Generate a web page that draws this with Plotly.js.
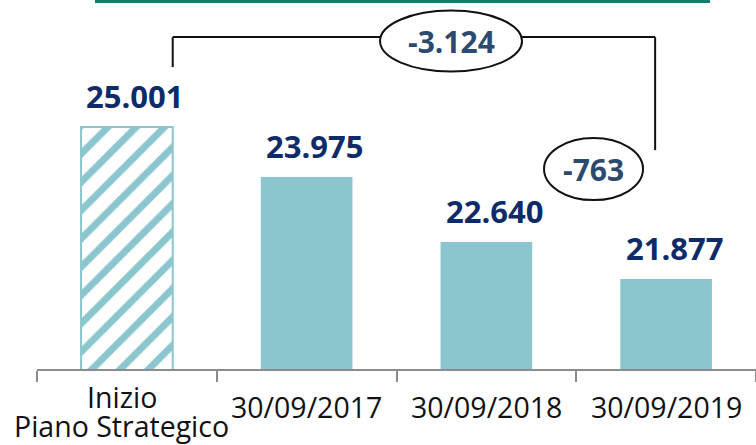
<!DOCTYPE html>
<html><head><meta charset="utf-8">
<script src="https://cdn.plot.ly/plotly-3.0.1.min.js"></script>
<style>html,body{margin:0;padding:0;background:#fff}#chart{width:756px;height:445px}</style>
</head><body><div id="chart"></div>
<script>
const categories = ["Inizio<br>Piano Strategico", "30/09/2017", "30/09/2018", "30/09/2019"];
const values = [25001, 23975, 22640, 21877];
const hatched = [true, false, false, false];

const BAR = '#8BC6CE', NAVY = '#0D2B69', SLATE = '#2C4A6E';
const yMin = 20030, perPx = 20.55, plotH = 369;
const yMax = yMin + plotH * perPx;
const fmt = v => (v < 0 ? '-' : '') + Math.abs(v).toString().replace(/\B(?=(\d{3})+(?!\d))/g, '.');
const catW = 719 / 4; // px per category
const px = p => p / catW;       // px -> category units
const py = p => p * perPx;      // px -> value units

const xs = categories.map((c, i) => i);
const trace = {
  type: 'bar', x: xs, y: values,
  marker: {
    color: BAR,
    line: {color: BAR, width: hatched.map(h => h ? 2 : 0)},
    pattern: {shape: hatched.map(h => h ? '/' : ''), fillmode: 'replace', fgcolor: BAR, bgcolor: 'white', size: 20, solidity: 0.35}
  },
  hoverinfo: 'skip'
};

const annotations = [];
values.forEach((v, i) => annotations.push({
  x: i, y: v, xref: 'x', yref: 'y', text: '<b>' + fmt(v) + '</b>', showarrow: false,
  yanchor: 'bottom', yshift: 8, xshift: 8, font: {family: 'Open Sans', size: 31, color: NAVY}
}));
categories.forEach((c, i) => {
  const parts = c.split('<br>'), n = parts.length;
  parts.forEach((t, k) => {
    const centre = 38 + 4.5 * (n - 1) + 28.5 * (k - (n - 1) / 2);
    annotations.push({
      x: i, y: 0, xref: 'x', yref: 'paper', text: t, showarrow: false,
      yanchor: 'middle', yshift: -centre, xshift: n > 1 ? -5 : 0,
      font: {family: 'Open Sans', size: 28.5, color: '#111'}
    });
  });
});

const first = values[0], last = values[values.length - 1], prev = values[values.length - 2];
const halfBar = 0.255;
const bracketY = first + py(90);
const rightX = 3 - px(11);
const e1 = {x: 1 + px(144.4), y: first + py(86), hw: px(71), hh: py(30.5)};
const e2 = {x: 3 - px(72.6), y: last + py(110), hw: px(49.5), hh: py(31)};
annotations.push({x: e1.x, y: e1.y, xref: 'x', yref: 'y', text: '<b>' + fmt(last - first) + '</b>', showarrow: false, font: {family: 'Open Sans', size: 30, color: SLATE}});
annotations.push({x: e2.x, y: e2.y, xref: 'x', yref: 'y', text: '<b>' + fmt(last - prev) + '</b>', showarrow: false, font: {family: 'Open Sans', size: 30, color: SLATE}});

const ln = {color: '#111', width: 2};
const shapes = [
  {type: 'line', xref: 'paper', yref: 'paper', x0: 58/719, x1: 673/719, y0: 1, y1: 1, line: {color: '#12806A', width: 6}},
  {type: 'line', xref: 'x', yref: 'y', x0: halfBar, x1: halfBar, y0: first + py(60), y1: bracketY, line: ln},
  {type: 'line', xref: 'x', yref: 'y', x0: halfBar, x1: rightX, y0: bracketY, y1: bracketY, line: ln},
  {type: 'line', xref: 'x', yref: 'y', x0: rightX, x1: rightX, y0: bracketY, y1: last + py(129), line: ln},
  {type: 'circle', xref: 'x', yref: 'y', x0: e1.x - e1.hw, x1: e1.x + e1.hw, y0: e1.y - e1.hh, y1: e1.y + e1.hh, fillcolor: 'white', line: ln},
  {type: 'circle', xref: 'x', yref: 'y', x0: e2.x - e2.hw, x1: e2.x + e2.hw, y0: e2.y - e2.hh, y1: e2.y + e2.hh, fillcolor: 'white', line: ln}
];

const layout = {
  width: 756, height: 445,
  margin: {l: 37, r: 0, t: 0, b: 445 - plotH},
  paper_bgcolor: 'white', plot_bgcolor: 'white',
  showlegend: false, bargap: 0.49,
  xaxis: {type: 'linear', range: [-0.5, 3.5], tickmode: 'array', tickvals: [-0.5, 0.5, 1.5, 2.5, 3.5],
          showticklabels: false, ticks: 'outside', ticklen: 11, tickwidth: 2, tickcolor: '#8c8c8c',
          showline: true, linecolor: '#8c8c8c', linewidth: 2, showgrid: false, zeroline: false, fixedrange: true},
  yaxis: {range: [yMin, yMax], visible: false, showgrid: false, zeroline: false, fixedrange: true},
  shapes: shapes, annotations: annotations
};
Plotly.newPlot('chart', [trace], layout, {displayModeBar: false, staticPlot: true});
</script></body></html>
